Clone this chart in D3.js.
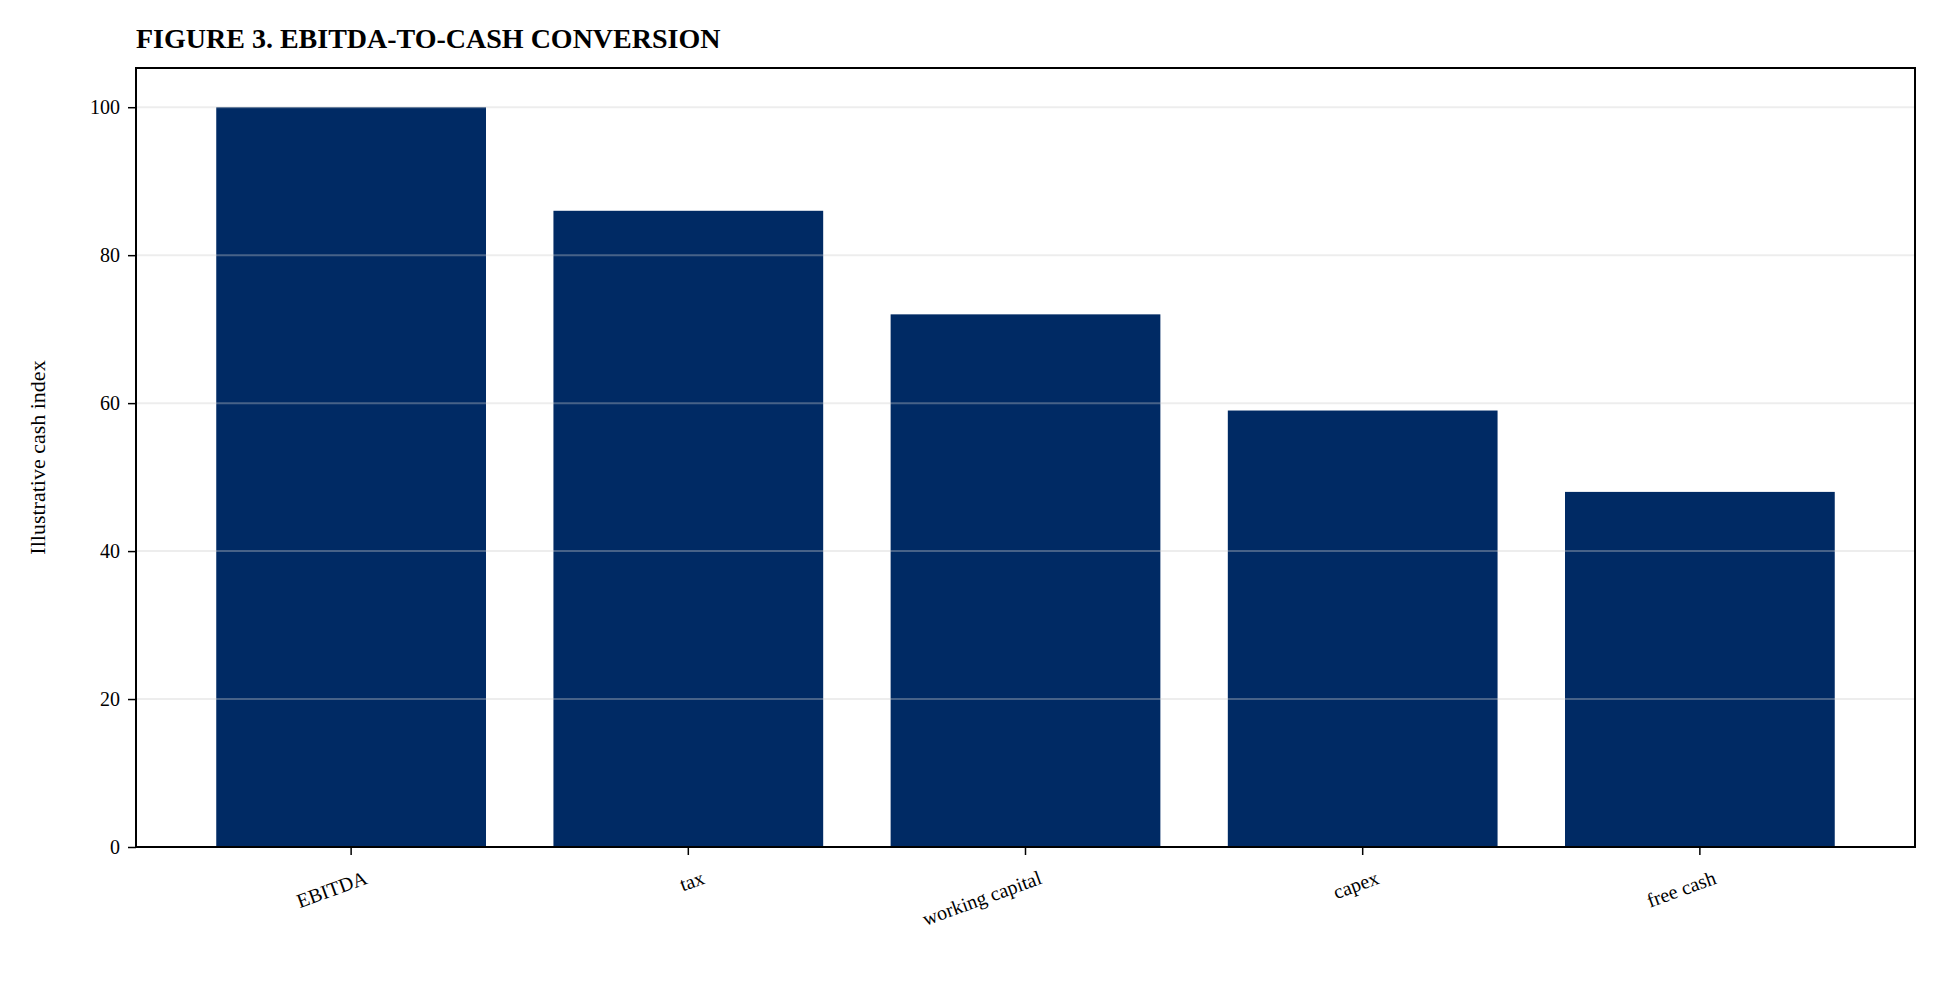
<!DOCTYPE html>
<html><head><meta charset="utf-8">
<script src="https://cdn.jsdelivr.net/npm/d3@7"></script>
<style>body{margin:0;background:#fff}text{font-family:"Liberation Serif","Times New Roman",serif}</style>
</head><body>
<svg id="c" width="1939" height="983"></svg>
<script>
const categories = ["EBITDA","tax","working capital","capex","free cash"];
const values = [100,86,72,59,48];
const yTicks = [0,20,40,60,80,100];
const title = "FIGURE 3. EBITDA-TO-CASH CONVERSION";
const yLabel = "Illustrative cash index";

const svg = d3.select("#c");
const L=136, R=1915, T=68, B=847;
const x = d3.scaleBand().domain(categories).range([L,R]).paddingInner(0.2).paddingOuter(0.238);
const y = d3.scaleLinear().domain([0,105.3]).range([B,T]);

svg.selectAll("rect.bar").data(values).join("rect").attr("class","bar")
  .attr("x",(d,i)=>x(categories[i])).attr("width",x.bandwidth())
  .attr("y",d=>y(d)).attr("height",d=>B-y(d)).attr("fill","#002a64");

svg.append("g").selectAll("line").data(yTicks.slice(1)).join("line")
  .attr("x1",L).attr("x2",R).attr("y1",d=>y(d)).attr("y2",d=>y(d))
  .attr("stroke","#cccccc").attr("stroke-opacity",0.35).attr("stroke-width",2);

const ya = svg.append("g").attr("transform",`translate(${L},0)`)
  .call(d3.axisLeft(y).tickValues(yTicks).tickSize(8).tickPadding(8));
ya.selectAll("text").attr("font-size",20).attr("fill","#000");
ya.select(".domain").remove();
ya.selectAll(".tick line").attr("stroke","#000").attr("stroke-width",1.5);

const xa = svg.append("g").attr("transform",`translate(0,${B})`)
  .call(d3.axisBottom(x).tickSize(8).tickPadding(10));
xa.select(".domain").remove();
xa.selectAll(".tick line").attr("stroke","#000").attr("stroke-width",1.5);
xa.selectAll("text").attr("font-size",20).attr("fill","#000")
  .attr("text-anchor","end").attr("dy","0.9em")
  .attr("transform","rotate(-20) translate(4,4)");

svg.append("rect").attr("x",L).attr("y",T).attr("width",R-L).attr("height",B-T)
  .attr("fill","none").attr("stroke","#000").attr("stroke-width",2);

svg.append("text").attr("x",L).attr("y",48).attr("font-size",28).attr("font-weight","bold").text(title);
svg.append("text").attr("transform",`translate(45,${(T+B)/2}) rotate(-90)`)
  .attr("text-anchor","middle").attr("font-size",22).text(yLabel);
</script>
</body></html>
